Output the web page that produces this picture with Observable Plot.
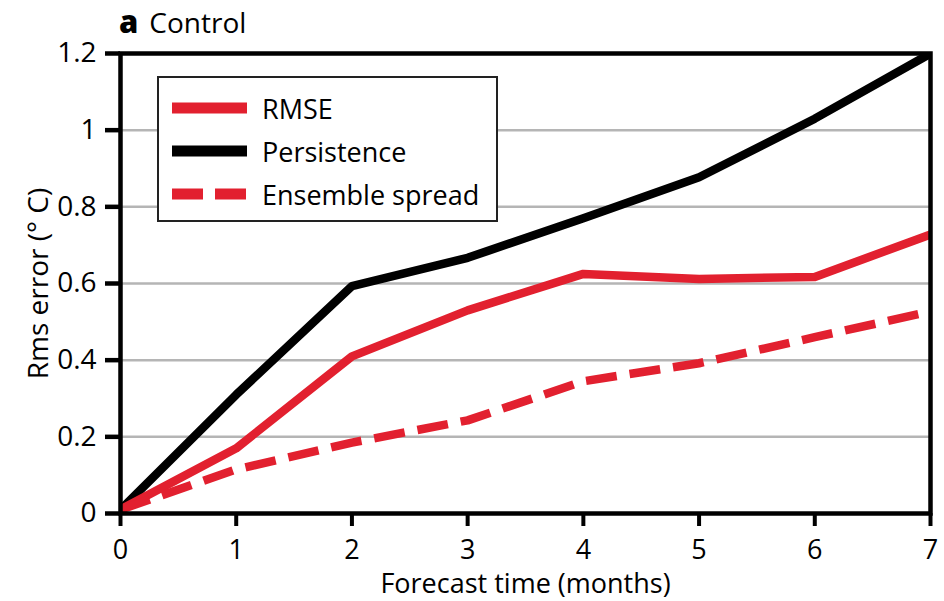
<!DOCTYPE html>
<html>
<head>
<meta charset="utf-8">
<script src="https://cdn.jsdelivr.net/npm/d3@7"></script>
<script src="https://cdn.jsdelivr.net/npm/@observablehq/plot@0.6"></script>
<style>
  body { margin: 0; background: #fff; font-family: "Open Sans", sans-serif; }
  #wrap { position: relative; width: 944px; height: 601px; }
  #title { position: absolute; left: 119px; top: 0px; font-size: 28px; color: #000; white-space: nowrap; }
  #title b { font-size: 31px; font-weight: 800; margin-right: 11px; }
  #legend { position: absolute; left: 157px; top: 76px; width: 341px; height: 146px;
            border: 2px solid #222; background: #fff; box-sizing: border-box; }
  .row { position: absolute; left: 13px; height: 34px; display: flex; align-items: center; font-size: 27px; white-space: nowrap; }
  .row svg { margin-right: 15px; }
</style>
</head>
<body>
<div id="wrap">
  <div id="chart"></div>
  <div id="title"><b>a</b>Control</div>
  <div id="legend"></div>
</div>
<script>
const months = [0, 1, 2, 3, 4, 5, 6, 7];
const rmse = [0.01, 0.17, 0.41, 0.53, 0.625, 0.612, 0.617, 0.728];
const persistence = [0.01, 0.31, 0.593, 0.667, 0.77, 0.877, 1.03, 1.2];
const spread = [0.01, 0.115, 0.185, 0.243, 0.345, 0.392, 0.46, 0.527];
const yTicks = [0, 0.2, 0.4, 0.6, 0.8, 1, 1.2];
const gridTicks = [0.2, 0.4, 0.6, 0.8, 1];
const seriesNames = ["RMSE", "Persistence", "Ensemble spread"];

const red = "#e2202f";
const toRows = (vals, name) => months.map((m, i) => ({month: m, value: vals[i], series: name}));
const rmseRows = toRows(rmse, seriesNames[0]);
const persRows = toRows(persistence, seriesNames[1]);
const spreadRows = toRows(spread, seriesNames[2]);

const chart = Plot.plot({
  width: 944,
  height: 601,
  marginLeft: 120,
  marginRight: 14,
  marginTop: 53,
  marginBottom: 88,
  style: { fontFamily: "Open Sans, sans-serif", fontSize: "27px", color: "#000", background: "#fff" },
  x: { domain: [0, 7] },
  y: { domain: [0, 1.2] },
  marks: [
    Plot.ruleY(gridTicks, { stroke: "#b5b5b5", strokeWidth: 2.5 }),
    Plot.axisX({ ticks: months, tickSize: 13, tickPadding: 13, strokeWidth: 4, fontSize: 27,
                 label: "Forecast time (months)", labelAnchor: "center", labelOffset: 79, labelArrow: "none",
                 tickFormat: d => String(d) }),
    Plot.axisY({ ticks: yTicks, tickSize: 15, tickPadding: 9, strokeWidth: 4.5, fontSize: 28,
                 label: "Rms error (° C)", labelAnchor: "center", labelOffset: 92, labelArrow: "none",
                 tickFormat: d => String(+d.toFixed(1)) }),
    Plot.line(persRows, { x: "month", y: "value", stroke: "#000", strokeWidth: 8.5, clip: true }),
    Plot.line(rmseRows, { x: "month", y: "value", stroke: red, strokeWidth: 8.5, clip: true }),
    Plot.line(spreadRows, { x: "month", y: "value", stroke: red, strokeWidth: 8.5, strokeDasharray: "31,13", strokeLinecap: "butt", clip: true }),
    Plot.frame({ stroke: "#000", strokeWidth: 4.5 })
  ]
});
document.getElementById("chart").appendChild(chart);

// legend
const legend = document.getElementById("legend");
const styles = [
  { stroke: red, dash: null },
  { stroke: "#000", dash: null },
  { stroke: red, dash: "31,12" }
];
seriesNames.forEach((name, i) => {
  const row = document.createElement("div");
  row.className = "row";
  row.style.top = (13 + i * 43) + "px";
  const s = styles[i];
  row.innerHTML = `<svg width="75" height="12"><line x1="0" x2="75" y1="6" y2="6" stroke="${s.stroke}" stroke-width="11" ${s.dash ? `stroke-dasharray="${s.dash}"` : ""}/></svg><span>${name}</span>`;
  legend.appendChild(row);
});
</script>
</body>
</html>
